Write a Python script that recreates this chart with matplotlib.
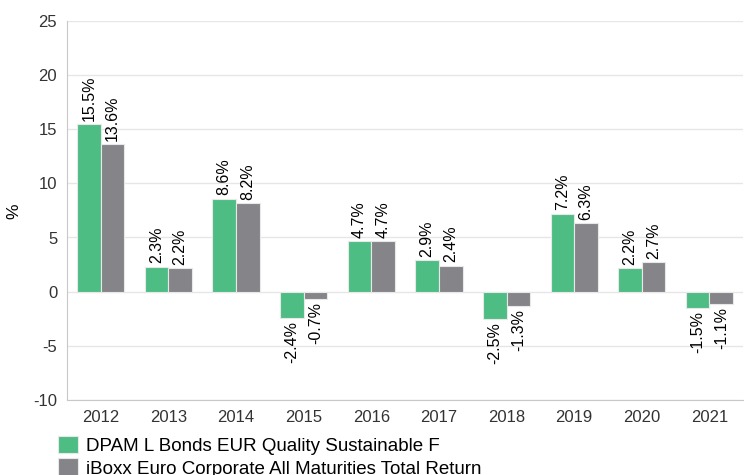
import matplotlib.pyplot as plt
import numpy as np

plt.rcParams["font.family"] = ["Liberation Sans", "DejaVu Sans"]
plt.rcParams["axes.unicode_minus"] = False

years = ["2012", "2013", "2014", "2015", "2016", "2017", "2018", "2019", "2020", "2021"]
fund = [15.5, 2.3, 8.6, -2.4, 4.7, 2.9, -2.5, 7.2, 2.2, -1.5]
index = [13.6, 2.2, 8.2, -0.7, 4.7, 2.4, -1.3, 6.3, 2.7, -1.1]
fund_name = "DPAM L Bonds EUR Quality Sustainable F"
index_name = "iBoxx Euro Corporate All Maturities Total Return"

GREEN = "#4dbd84"
GREY = "#858589"
TEXT = "#333333"


def label_bars(ax, bars, values):
    for bar, v in zip(bars, values):
        x = bar.get_x() + bar.get_width() / 2
        va = "bottom" if v >= 0 else "top"
        off = 0.3 if v >= 0 else -0.3
        ax.text(x, v + off, f"{v:.1f}%", rotation=90, ha="center", va=va,
                fontsize=11.5, color="black")


fig = plt.figure(figsize=(7.44, 4.75), dpi=100)
ax = fig.add_axes([0.09, 0.158, 0.909, 0.798])

x = np.arange(len(years))
w = 0.35
b1 = ax.bar(x - w / 2, fund, w, color=GREEN, edgecolor="#e8e8e8", linewidth=0.8,
            label=fund_name, zorder=3)
b2 = ax.bar(x + w / 2, index, w, color=GREY, edgecolor="#e8e8e8", linewidth=0.8,
            label=index_name, zorder=3)
label_bars(ax, b1, fund)
label_bars(ax, b2, index)

ax.set_xlim(-0.5, len(years) - 0.5)
ax.set_ylim(-10, 25)
ax.set_yticks(range(-10, 30, 5))
ax.set_xticks(x)
ax.set_xticklabels(years)
ax.tick_params(length=0, labelsize=12, colors=TEXT, pad=7)
ax.grid(axis="y", color="#e6e6e6", linewidth=1, zorder=0)
for s in ["top", "right"]:
    ax.spines[s].set_visible(False)
for s in ["left", "bottom"]:
    ax.spines[s].set_color("#c8c8c8")

# y label sits well left of the tick labels
fig.text(0.019, 0.555, "%", rotation=90, ha="center", va="center",
         fontsize=12.5, color="black")

fig.legend(handles=[b1, b2], loc="upper left", bbox_to_anchor=(0.078, 0.083),
           frameon=False, fontsize=13.5, handlelength=1.05, handleheight=1.05,
           handletextpad=0.45, labelspacing=0.2, borderpad=0, borderaxespad=0)

fig.savefig("out.png", dpi=100)
